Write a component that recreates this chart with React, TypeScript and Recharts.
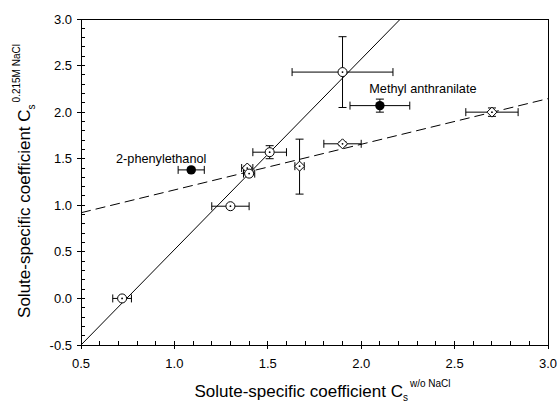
import React from 'react';
import { ScatterChart, Scatter, XAxis, YAxis, ErrorBar, ReferenceLine } from 'recharts';

const FONT = '"Liberation Sans", Arial, Helvetica, sans-serif';

// open circles (with centre dot)
const circleX = [0.72, 1.3, 1.4, 1.51, 1.9];
const circleY = [0.0, 0.99, 1.34, 1.57, 2.43];
const circleXErr = [0.05, 0.1, 0.03, 0.09, 0.27];
const circleYErr = [0, 0, 0.02, 0.07, 0.38];

// open diamonds (with centre dot)
const diamondX = [1.39, 1.67, 1.9, 2.7];
const diamondY = [1.4, 1.42, 1.66, 2.0];
const diamondXErr = [0.03, 0.025, 0.1, 0.14];
const diamondYErr: (number | number[])[] = [0.02, [0.3, 0.29], 0.02, 0.045];

// named compounds, filled circles
const namedLabels = ['2-phenylethanol', 'Methyl anthranilate'];
const namedX = [1.09, 2.1];
const namedY = [1.38, 2.07];
const namedXErr = [0.07, 0.16];
const namedYErr = [0.02, 0.07];

// fitted lines (end points)
const solidFitX = [0.5, 2.21];
const solidFitY = [-0.5, 3.0];
const dashFitX = [0.5, 3.0];
const dashFitY = [0.92, 2.145];

const xMajor = [0.5, 1.0, 1.5, 2.0, 2.5, 3.0];
const yMajor = [-0.5, 0.0, 0.5, 1.0, 1.5, 2.0, 2.5, 3.0];

// minor ticks every 0.1 between the labelled ones
const withMinors = (major: number[]) => {
  const out: number[] = [];
  for (let i = 0; i < major.length - 1; i++) {
    for (let k = 0; k < 5; k++) out.push(Math.round((major[i] + k * 0.1) * 10) / 10);
  }
  out.push(major[major.length - 1]);
  return out;
};
const xTicks = withMinors(xMajor);
const yTicks = withMinors(yMajor);
const isMajor = (v: number) => Math.abs(v * 2 - Math.round(v * 2)) < 1e-6;

const circles = circleX.map((x, i) => ({ x, y: circleY[i], ex: circleXErr[i], ey: circleYErr[i] }));
const diamonds = diamondX.map((x, i) => ({ x, y: diamondY[i], ex: diamondXErr[i], ey: diamondYErr[i] }));
const named = namedX.map((x, i) => ({
  x,
  y: namedY[i],
  ex: namedXErr[i],
  ey: namedYErr[i],
  name: namedLabels[i],
}));
const solidFit = solidFitX.map((x, i) => ({ x, y: solidFitY[i] }));
const dashFit = dashFitX.map((x, i) => ({ x, y: dashFitY[i] }));

const labelOffset: Record<string, [number, number]> = {
  '2-phenylethanol': [-30, -7],
  'Methyl anthranilate': [43, -13],
};

const OpenCircle = (p: any) => (
  <g>
    <circle cx={p.cx} cy={p.cy} r={4.5} fill="#fff" stroke="#000" strokeWidth={1} />
    <circle cx={p.cx} cy={p.cy} r={0.9} fill="#000" />
  </g>
);

const OpenDiamond = (p: any) => {
  const s = 5;
  return (
    <g>
      <path
        d={`M${p.cx},${p.cy - s}L${p.cx + s},${p.cy}L${p.cx},${p.cy + s}L${p.cx - s},${p.cy}Z`}
        fill="#fff"
        stroke="#000"
        strokeWidth={1}
      />
      <circle cx={p.cx} cy={p.cy} r={0.9} fill="#000" />
    </g>
  );
};

const NamedDot = (p: any) => {
  const [dx, dy] = labelOffset[p.payload.name] || [0, -12];
  return (
    <g>
      <circle cx={p.cx} cy={p.cy} r={4.7} fill="#000" />
      <text x={p.cx + dx} y={p.cy + dy} textAnchor="middle" fontSize={12.7} fontFamily={FONT} fill="#000">
        {p.payload.name}
      </text>
    </g>
  );
};

const NoShape = () => <g />;

// major ticks cross the axis, minor ticks point inward
const XTick = (props: any) => {
  const { x, y, payload } = props;
  const v = payload.value;
  if (!isMajor(v))
    return (
      <g>
        <line x1={x} x2={x} y1={y} y2={y - 4} stroke="#000" strokeWidth={1} shapeRendering="crispEdges" />
      </g>
    );
  return (
    <g>
      <line x1={x} x2={x} y1={y - 4} y2={y + 4} stroke="#000" shapeRendering="crispEdges" />
      <text x={x} y={y + 23} textAnchor="middle" fontSize={13} fontFamily={FONT} fill="#000">
        {v.toFixed(1)}
      </text>
    </g>
  );
};

const YTick = (props: any) => {
  const { x, y, payload } = props;
  const v = payload.value;
  if (!isMajor(v))
    return (
      <g>
        <line x1={x} x2={x + 4} y1={y} y2={y} stroke="#000" strokeWidth={1} shapeRendering="crispEdges" />
      </g>
    );
  return (
    <g>
      <line x1={x - 4} x2={x + 4} y1={y} y2={y} stroke="#000" shapeRendering="crispEdges" />
      <text x={x - 9} y={y + 4.5} textAnchor="end" fontSize={13} fontFamily={FONT} fill="#000">
        {v.toFixed(1)}
      </text>
    </g>
  );
};

const XTitle = (props: any) => {
  const vb = props.viewBox || { x: 81, y: 345, width: 467 };
  return (
    <text x={vb.x + vb.width / 2 + 8} y={vb.y + 52} textAnchor="middle" fontSize={17} fontFamily={FONT} fill="#000">
      Solute-specific coefficient C
      <tspan fontSize={10} dy={4}>s</tspan>
      <tspan fontSize={10} dy={-14} dx={2}>w/o NaCl</tspan>
    </text>
  );
};

const YTitle = () => (
  <text
    x={0}
    y={0}
    transform="translate(30,181) rotate(-90)"
    textAnchor="middle"
    fontSize={17}
    fontFamily={FONT}
    fill="#000"
  >
    Solute-specific coefficient C
    <tspan fontSize={10} dy={5}>s</tspan>
    <tspan fontSize={10} dy={-15} dx={2}>0.215M NaCl</tspan>
  </text>
);

export default function App() {
  return (
    <div style={{ position: 'absolute', left: 0, top: 0, width: 557, height: 403, background: '#fff' }}>
      <ScatterChart width={557} height={403} margin={{ top: 19, right: 9, bottom: 0, left: 0 }}>
        <XAxis
          type="number"
          dataKey="x"
          domain={[0.5, 3]}
          ticks={xTicks}
          interval={0}
          tick={<XTick />}
          tickSize={0}
          tickMargin={0}
          tickLine={false}
          axisLine={{ stroke: '#000', shapeRendering: 'crispEdges' }}
          height={58}
          label={<XTitle />}
        />
        <YAxis
          type="number"
          dataKey="y"
          domain={[-0.5, 3]}
          ticks={yTicks}
          interval={0}
          tick={<YTick />}
          tickSize={0}
          tickMargin={0}
          tickLine={false}
          axisLine={{ stroke: '#000', shapeRendering: 'crispEdges' }}
          width={81}
          label={<YTitle />}
        />
        <ReferenceLine y={3} stroke="#000" shapeRendering="crispEdges" />
        <ReferenceLine x={3} stroke="#000" shapeRendering="crispEdges" />

        <Scatter data={solidFit} line={{ stroke: '#000', strokeWidth: 1 }} shape={NoShape} isAnimationActive={false} />
        <Scatter
          data={dashFit}
          line={{ stroke: '#000', strokeWidth: 1, strokeDasharray: '10 5' }}
          shape={NoShape}
          isAnimationActive={false}
        />

        <Scatter data={diamonds} shape={OpenDiamond} isAnimationActive={false}>
          <ErrorBar dataKey="ex" direction="x" width={4} stroke="#000" strokeWidth={1} isAnimationActive={false} />
          <ErrorBar dataKey="ey" direction="y" width={4} stroke="#000" strokeWidth={1} isAnimationActive={false} />
        </Scatter>
        <Scatter data={circles} shape={OpenCircle} isAnimationActive={false}>
          <ErrorBar dataKey="ex" direction="x" width={4} stroke="#000" strokeWidth={1} isAnimationActive={false} />
          <ErrorBar dataKey="ey" direction="y" width={4} stroke="#000" strokeWidth={1} isAnimationActive={false} />
        </Scatter>
        <Scatter data={named} shape={NamedDot} isAnimationActive={false}>
          <ErrorBar dataKey="ex" direction="x" width={4} stroke="#000" strokeWidth={1} isAnimationActive={false} />
          <ErrorBar dataKey="ey" direction="y" width={4} stroke="#000" strokeWidth={1} isAnimationActive={false} />
        </Scatter>
      </ScatterChart>
    </div>
  );
}
